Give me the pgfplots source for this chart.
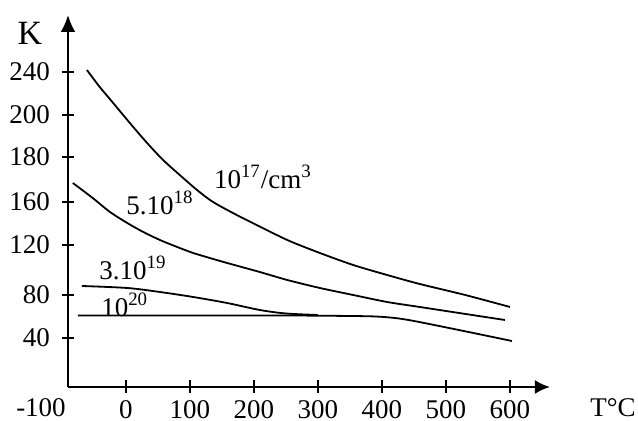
\documentclass[border=0pt]{standalone}
\usepackage{fontspec}
\setmainfont{Liberation Serif}
\usepackage{pgfplots}
\pgfplotsset{compat=1.18}
\usetikzlibrary{arrows.meta}
\newcommand{\fs}{\fontsize{13.5}{16}\selectfont}
\begin{document}
\begin{tikzpicture}
\begin{axis}[
  at={(0,0)}, anchor=south west,
  scale only axis, width=241pt, height=186pt,
  xmin=-90.6, xmax=662.5, ymin=0, ymax=372,
  axis lines=left,
  axis line style={line width=1.2pt},
  x axis line style={-{Latex[length=7.5pt,width=7pt]}},
  y axis line style={-{Latex[length=8.5pt,width=7.5pt]}},
  xtick={0,100,200,300,400,500,600},
  ytick={49,92,142,185,230,272,315},
  yticklabels={40,80,120,160,180,200,240},
  tick align=center,
  major tick length=6pt,
  tick style={black, line width=1.2pt},
  tick label style={font=\fs, text=black},
  xticklabel style={yshift=-0.3pt},
  yticklabel style={xshift=-2.5pt},
  /pgf/number format/assume math mode=true,
  unbounded coords=jump,
  clip=false,
]
\addplot[black, line width=0.9pt, smooth] coordinates {
(-61,317) (-41,300) (-20,284) (6,264) (33,244) (58,227) (84,212) (111,197) (136,185) (173,172) (198,164) (252,147) (303,134) (355,122) (408,112) (459,103) (530,92) (600,80)};
\addplot[black, line width=0.9pt, smooth] coordinates {
(-83,204) (-52,189) (-25,175) (2,164) (27,155) (53,147) (80,140) (105,134) (131,129) (158,124) (209,115) (252,107) (303,99) (355,92) (408,85) (459,80) (592,67)};
\addplot[black, line width=0.9pt, smooth] coordinates {
(-69,101) (2,99) (53,95) (105,90) (158,84) (209,77) (250,73.5) (300,72)};
\addplot[black, line width=0.9pt, smooth] coordinates {
(-75,71.5) (100,71.5) (250,71.5) (350,71) (390,70.5) (420,69) (450,66) (520,57) (603,46)};
% tick marks on the x axis line
\addplot[black, line width=1.2pt, forget plot] coordinates {
(0,-4) (0,7) (0,nan) (100,-4) (100,7) (100,nan) (200,-4) (200,7) (200,nan)
(300,-4) (300,7) (300,nan) (400,-4) (400,7) (400,nan) (500,-4) (500,7) (500,nan)
(600,-4) (600,7)};
% tick marks on the y axis line
\addplot[black, line width=1.2pt, forget plot] coordinates {
(-98.4,49) (-82.8,49) (nan,49) (-98.4,92) (-82.8,92) (nan,92) (-98.4,142) (-82.8,142) (nan,142)
(-98.4,185) (-82.8,185) (nan,185) (-98.4,230) (-82.8,230) (nan,230) (-98.4,272) (-82.8,272) (nan,272)
(-98.4,315) (-82.8,315)};
\node[font=\fs] at (axis cs:214,210) {10\textsuperscript{17}/cm\textsuperscript{3}};
\node[font=\fs] at (axis cs:53,184) {5.10\textsuperscript{18}};
\node[font=\fs] at (axis cs:11,119) {3.10\textsuperscript{19}};
\node[font=\fs] at (axis cs:-2,82) {10\textsuperscript{20}};
\end{axis}
\node[font=\fs] at (-13.5pt,-10.5pt) {-100};
\node[font=\fs] at (272.5pt,-10.5pt) {T\textdegree C};
\node[font=\fontsize{17}{20}\selectfont] at (-19pt,177pt) {K};
\pgfresetboundingbox
\path[use as bounding box] (-34pt,-17pt) rectangle (285pt,193.5pt);
\end{tikzpicture}
\end{document}
